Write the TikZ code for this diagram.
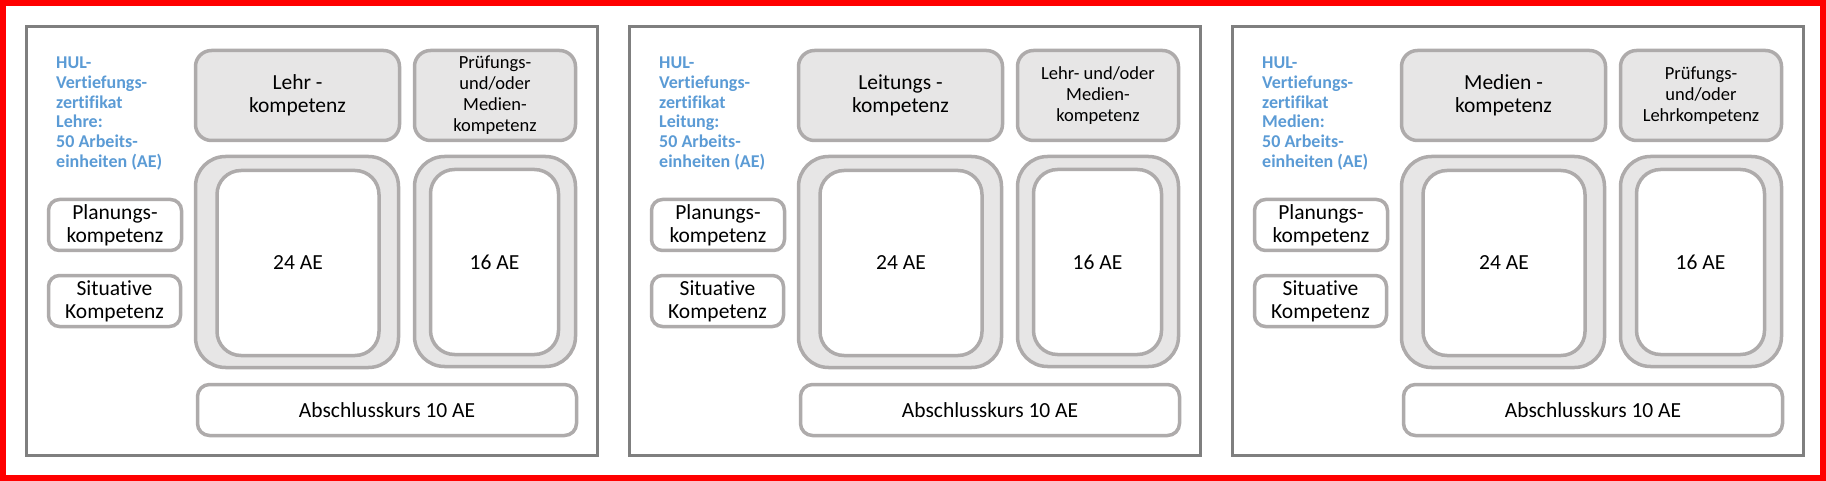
\documentclass[tikz,border=0pt]{standalone}
\usepackage{fontspec}
\setmainfont{Carlito}[Ligatures=NoCommon]

\definecolor{hulblue}{HTML}{5B9BD5}
\definecolor{boxline}{HTML}{AEABAB}
\definecolor{boxfill}{HTML}{E7E6E6}
\definecolor{panelline}{HTML}{7F7F7F}

\begin{document}
\begin{tikzpicture}[x=1pt, y=-1pt,
  panel/.style={draw=panelline, line width=3pt, inner sep=0pt,
    minimum width=571pt, minimum height=429pt},
  box/.style={draw=boxline, line width=3.5pt, rectangle, inner sep=0pt,
    align=center, font=\fontsize{21.5}{23}\selectfont},
  kompbox/.style={box, fill=boxfill, rounded corners=16pt},
  sidebox/.style={kompbox, font=\fontsize{18.5}{21}\selectfont},
  ringbox/.style={box, fill=boxfill, rounded corners=30pt},
  aebox/.style={box, fill=white, rounded corners=24pt},
  smallbox/.style={box, fill=white, rounded corners=11pt},
  hultext/.style={text=hulblue, align=left, anchor=north west, inner sep=0pt,
    font=\bfseries\fontsize{18}{19.7}\selectfont}]

\useasboundingbox (0,0) rectangle (1826,481);
\draw[red, line width=6pt] (3,3) rectangle (1823,478);

%\Off = x shift of one panel, \Id = name prefix
\foreach \Off/\Id/\Topic/\Main/\Side in {
  0/a/Lehre/{Lehr -\\kompetenz}/{Prüfungs-\\und/oder\\Medien-\\kompetenz},
  603/b/Leitung/{Leitungs -\\kompetenz}/{Lehr- und/oder\\Medien-\\kompetenz},
  1206/c/Medien/{Medien -\\kompetenz}/{Prüfungs-\\und/oder\\Lehrkompetenz}}
{
\begin{scope}[xshift=\Off pt]

\node[panel] (\Id frame) at (312, 241) {};

\node[hultext] (\Id hul) at (56, 57)
  {HUL-\\Vertiefungs-\\zertifikat\\\Topic:\\50 Arbeits-\\einheiten (AE)};

\node[kompbox, minimum width=204pt, minimum height=90pt] (\Id main) at (297.5, 95.5) {\Main};
\node[sidebox, minimum width=161pt, minimum height=90pt] (\Id side) at (495, 95.5) {\Side};

\node[ringbox, minimum width=203pt, minimum height=211pt] (\Id bigring) at (297, 262) {};
\node[aebox, minimum width=162pt, minimum height=185pt] (\Id big) at (298, 263) {24 AE};

\node[ringbox, minimum width=161pt, minimum height=210pt] (\Id smallring) at (495, 261.5) {};
\node[aebox, minimum width=128pt, minimum height=185pt] (\Id small) at (494.5, 262) {16 AE};

\node[smallbox, rounded corners=12pt, minimum width=379pt, minimum height=51pt] (\Id final) at (387, 410) {Abschlusskurs 10 AE};

\node[smallbox, minimum width=133pt, minimum height=51pt] (\Id plan) at (115, 225) {Planungs-\\kompetenz};
\node[smallbox, minimum width=132pt, minimum height=51pt] (\Id sit) at (114.5, 301) {Situative\\Kompetenz};

\end{scope}
}

\end{tikzpicture}
\end{document}
